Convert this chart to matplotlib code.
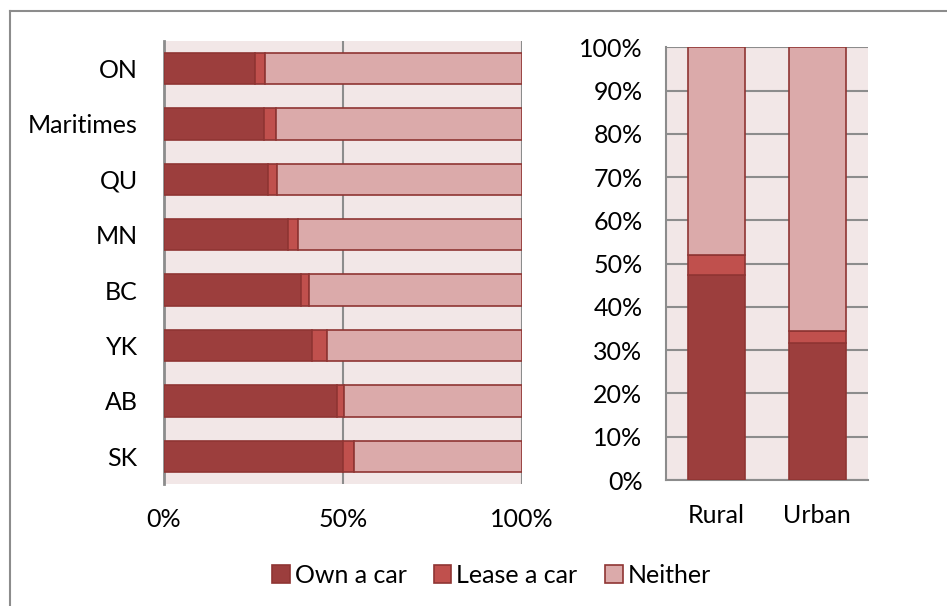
import matplotlib.pyplot as plt
import numpy as np
from matplotlib.ticker import PercentFormatter

# Province data (top to bottom as shown)
provinces = ['ON', 'Maritimes', 'QU', 'MN', 'BC', 'YK', 'AB', 'SK']
prov_own = [0.254, 0.280, 0.290, 0.346, 0.382, 0.413, 0.484, 0.501]
prov_lease = [0.027, 0.032, 0.027, 0.027, 0.024, 0.043, 0.020, 0.031]
prov_neither = [1 - o - l for o, l in zip(prov_own, prov_lease)]

# Rural / urban data
areas = ['Rural', 'Urban']
area_own = [0.474, 0.317]
area_lease = [0.046, 0.027]
area_neither = [1 - o - l for o, l in zip(area_own, area_lease)]

series = ['Own a car', 'Lease a car', 'Neither']
colors = ['#9c3e3d', '#c0504d', '#dbaaaa']
edge = '#8f3533'
bg = '#f2e7e7'
grid_col = '#8c8c8c'
fs = 18

plt.rcParams['font.family'] = ['Lato', 'DejaVu Sans']

fig = plt.figure(figsize=(9.47, 6.06), dpi=100)
# outer border of chart area
fig.add_artist(plt.Line2D([10/947, 10/947], [0, 1 - 11/606], transform=fig.transFigure,
                          color='#8c8c8c', lw=1.5))
fig.add_artist(plt.Line2D([10/947, 1], [1 - 11/606, 1 - 11/606], transform=fig.transFigure,
                          color='#8c8c8c', lw=1.5))

# left: horizontal stacked bars
ax1 = fig.add_axes([0.1732, 0.2013, 0.378, 0.7315])
ax1.set_facecolor(bg)
ypos = np.arange(len(provinces))[::-1]
left = np.zeros(len(provinces))
for vals, c, name in zip([prov_own, prov_lease, prov_neither], colors, series):
    ax1.barh(ypos, vals, left=left, height=0.567, color=c, edgecolor=edge,
             linewidth=1.2, label=name, zorder=3)
    left += np.array(vals)
ax1.set_xlim(0, 1)
ax1.set_ylim(-0.5, len(provinces) - 0.5)
ax1.set_yticks(ypos)
ax1.set_yticklabels(provinces)
ax1.set_xticks([0, 0.5, 1])
ax1.xaxis.set_major_formatter(PercentFormatter(1.0, decimals=0))
ax1.tick_params(length=0, labelsize=fs)
ax1.tick_params(axis='x', pad=17)
ax1.tick_params(axis='y', pad=19)
ax1.grid(axis='x', color=grid_col, lw=1.5, zorder=1)
for s in ['top', 'right', 'bottom']:
    ax1.spines[s].set_visible(False)
ax1.spines['left'].set_color(grid_col)
ax1.spines['left'].set_linewidth(2)

# right: vertical stacked bars
ax2 = fig.add_axes([0.7033, 0.2079, 0.213, 0.714])
ax2.set_facecolor(bg)
xpos = np.arange(len(areas))
bottom = np.zeros(len(areas))
for vals, c in zip([area_own, area_lease, area_neither], colors):
    ax2.bar(xpos, vals, bottom=bottom, width=0.57, color=c, edgecolor=edge,
            linewidth=1.2, zorder=3)
    bottom += np.array(vals)
ax2.set_xlim(-0.5, 1.5)
ax2.set_ylim(0, 1)
ax2.set_yticks(np.arange(0, 1.01, 0.1))
ax2.yaxis.set_major_formatter(PercentFormatter(1.0, decimals=0))
ax2.set_xticks(xpos)
ax2.set_xticklabels(areas)
ax2.tick_params(length=0, labelsize=fs)
ax2.tick_params(axis='y', pad=17)
ax2.tick_params(axis='x', pad=17)
ax2.grid(axis='y', color=grid_col, lw=1.5, zorder=1)
for s in ['top', 'right']:
    ax2.spines[s].set_visible(False)
for s in ['left', 'bottom']:
    ax2.spines[s].set_color(grid_col)
    ax2.spines[s].set_linewidth(1.5)

handles, labels = ax1.get_legend_handles_labels()
fig.legend(handles, labels, loc='center', bbox_to_anchor=(0.519, 0.051), ncol=3,
           frameon=False, fontsize=fs, handlelength=0.7, handleheight=0.7,
           handletextpad=0.2, columnspacing=1.1)

plt.savefig('out.png', dpi=100)
